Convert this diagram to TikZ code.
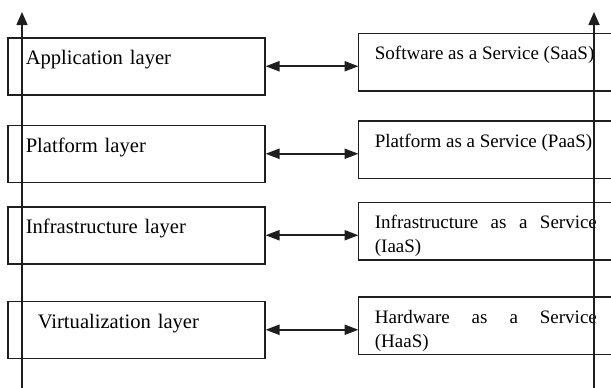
\documentclass[tikz,border=0pt]{standalone}
\usepackage{fontspec}
\setmainfont{Liberation Serif}
\usetikzlibrary{arrows.meta,positioning}
\definecolor{InkDark}{HTML}{1E1E1E}
\tikzset{
  LB/.style={rectangle,draw=InkDark,line width=0.75pt,
             text width=110.5pt,align=left,
             inner xsep=9pt,inner ysep=0pt,
             text height=13.5pt,text depth=15pt,
             font=\fontsize{10.3}{12}\selectfont},
  SB/.style={rectangle,text width=111pt,align=justify,
             inner xsep=8pt,inner ysep=0pt,
             text height=13pt,text depth=15.5pt,
             font=\fontsize{9.5}{12}\selectfont},
  edge/.style={draw=InkDark,line width=0.75pt},
  biarr/.style={{Triangle[length=7pt,width=5pt]}-{Triangle[length=7pt,width=5pt]},
                line width=1pt,draw=InkDark,fill=InkDark},
  axarr/.style={-{Triangle[length=6.5pt,width=5.5pt]},line width=0.8pt,
                draw=InkDark,fill=InkDark}
}

\begin{document}
\begin{tikzpicture}[x=0.5pt,y=-0.5pt]
  \useasboundingbox (0,0) rectangle (611,387);
  \clip (0,0) rectangle (611,387);

  % layers
  \node[LB,anchor=north west] (app) at (7,37) {Application layer};
  \node[LB,below=14.5pt of app] (plat) {Platform layer};
  \node[LB,below=11.5pt of plat] (infra) {Infrastructure layer};
  \node[LB,below=18pt of infra] (virt) {\hspace*{6pt}Virtualization layer};

  % services
  \begin{scope}
    \clip (0,0) rectangle (595,387);
    \node[SB,right=46.5pt of app,yshift=2pt] (saas) {Software as a Service (SaaS)};
    \node[SB,right=46.5pt of plat,yshift=2pt] (paas) {Platform as a Service (PaaS)};
    \node[SB,right=46.5pt of infra,yshift=2pt] (iaas) {Infrastructure as a Service (IaaS)};
    \node[SB,right=46.5pt of virt,yshift=2pt] (haas) {Hardware as a Service\linebreak (HaaS)};
  \end{scope}
  \foreach \s in {saas,paas,iaas,haas}
    \draw[edge] (\s.north east) -- (\s.north west) -- (\s.south west) -- (\s.south east);

  \draw[biarr] (app.east) -- (app.east -| saas.west);
  \draw[biarr] (plat.east) -- (plat.east -| paas.west);
  \draw[biarr] (infra.east) -- (infra.east -| iaas.west);
  \draw[biarr] (virt.east) -- (virt.east -| haas.west);

  % side axes
  \coordinate (lfoot) at (22,390);
  \coordinate (ltop) at (22,12);
  \coordinate (rfoot) at (594,390);
  \coordinate (rtop) at (594,12);
  \draw[axarr] (lfoot) -- (ltop);
  \draw[axarr] (rfoot) -- (rtop);
\end{tikzpicture}
\end{document}
